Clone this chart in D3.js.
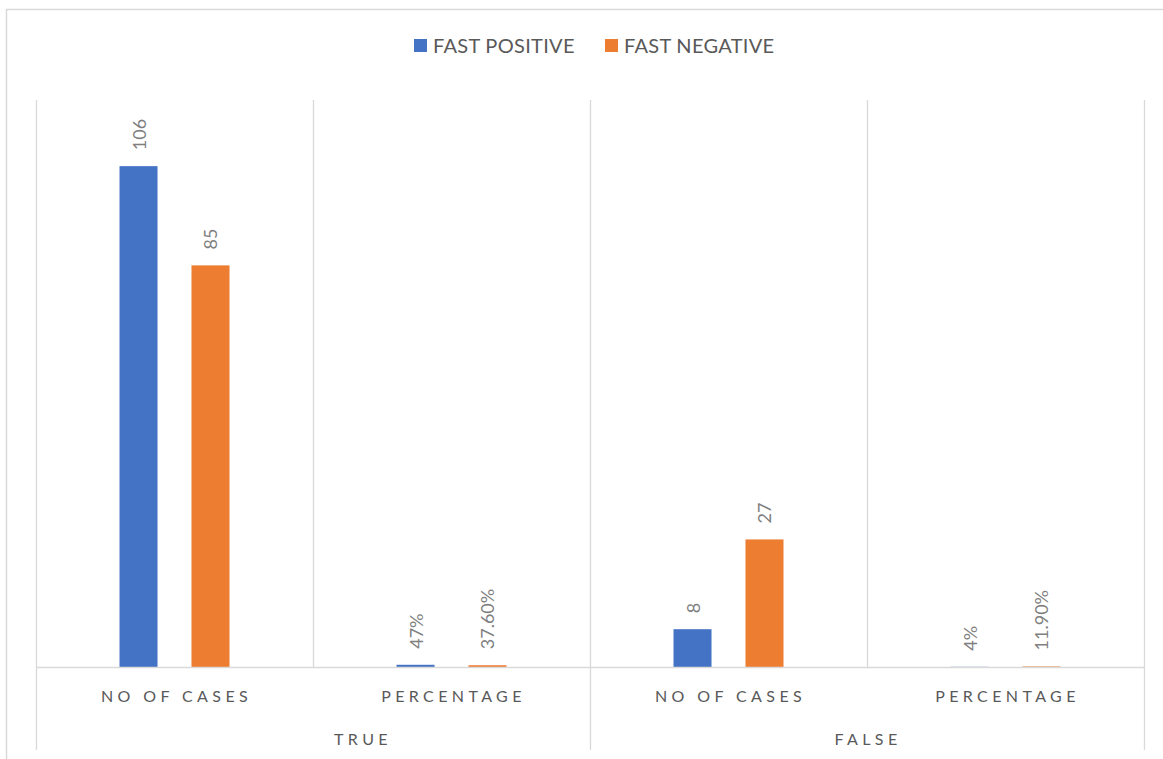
<!DOCTYPE html>
<html>
<head>
<meta charset="utf-8">
<script src="https://cdn.jsdelivr.net/npm/d3@7"></script>
<style>
  body { margin: 0; background: #fff; }
  text { font-family: Lato, "Open Sans", sans-serif; }
</style>
</head>
<body>
<svg id="chart" width="1163" height="759"></svg>
<script>
// data
var groups = ["TRUE", "FALSE"]
var categories = ["NO OF CASES", "PERCENTAGE"]
var seriesNames = ["FAST POSITIVE", "FAST NEGATIVE"]
var fastPositive = [106, 0.47, 8, 0.04]
var fastNegative = [85, 0.376, 27, 0.119]
var labelsPositive = ["106", "47%", "8", "4%"]
var labelsNegative = ["85", "37.60%", "27", "11.90%"]
var colors = ["#4472C4", "#ED7D31"]

function drawChart(){
  var svg = d3.select("#chart")
  var left = 36, right = 1144, plotTop = 100, base = 667

  // chart border (cut off on the right / bottom like the source)
  svg.append("rect").attr("x", 6.5).attr("y", 9.5).attr("width", 1300).attr("height", 900)
    .attr("fill", "#fff").attr("stroke", "#d9d9d9").attr("stroke-width", 1.5)

  // rows: one per (group, category)
  var rows = []
  groups.forEach(function(g){
    categories.forEach(function(c){ rows.push({group: g, cat: c, key: g + "|" + c}) })
  })
  rows.forEach(function(r, i){
    r.values = [fastPositive[i], fastNegative[i]]
    r.labels = [labelsPositive[i], labelsNegative[i]]
  })

  var x0 = d3.scaleBand().domain(rows.map(d => d.key)).range([left, right])
  var xg = d3.scaleBand().domain(groups).range([left, right])
  var x1 = d3.scaleBand().domain(seriesNames).range([0, x0.bandwidth()])
    .paddingInner(0.472).paddingOuter(1.16)
  var y = d3.scaleLinear().domain([0, 120]).range([base, plotTop])

  var grid = "#d9d9d9"

  // vertical category lines in plot area
  rows.forEach(function(r, i){
    svg.append("line").attr("x1", x0(r.key) + 0.5).attr("x2", x0(r.key) + 0.5)
      .attr("y1", plotTop).attr("y2", i % 2 == 0 ? 750 : base)
      .attr("stroke", grid).attr("stroke-width", 1.3)
  })
  svg.append("line").attr("x1", right + 0.5).attr("x2", right + 0.5)
    .attr("y1", plotTop).attr("y2", 750).attr("stroke", grid).attr("stroke-width", 1.3)

  // bars
  var g = svg.selectAll("g.row").data(rows).enter().append("g").attr("class", "row")
    .attr("transform", d => "translate(" + x0(d.key) + ",0)")

  g.selectAll("rect").data(d => d.values.map((v, i) => ({s: seriesNames[i], v: v, i: i})))
    .enter().append("rect")
    .attr("x", d => x1(d.s))
    .attr("width", x1.bandwidth())
    .attr("y", d => y(d.v))
    .attr("height", d => base - y(d.v))
    .attr("fill", d => colors[d.i])

  // baseline
  svg.append("line").attr("x1", left).attr("x2", right + 1)
    .attr("y1", base + 0.5).attr("y2", base + 0.5).attr("stroke", grid).attr("stroke-width", 1.3)

  // data labels (rotated)
  g.selectAll("text.lbl").data(d => d.values.map((v, i) => ({s: seriesNames[i], v: v, t: d.labels[i]})))
    .enter().append("text").attr("class", "lbl")
    .attr("transform", d => "translate(" + (x1(d.s) + x1.bandwidth() / 2) + "," + (y(d.v) - 16) + ") rotate(-90)")
    .attr("dominant-baseline", "central")
    .attr("text-anchor", "start")
    .style("font-size", "18px")
    .style("fill", "#7f7f7f")
    .text(d => d.t)

  // category labels
  svg.selectAll("text.cat").data(rows).enter().append("text").attr("class", "cat")
    .attr("x", d => x0(d.key) + x0.bandwidth() / 2 + 2)
    .attr("y", 702)
    .attr("text-anchor", "middle")
    .style("font-size", "16px")
    .style("letter-spacing", "4.4px")
    .style("fill", "#595959")
    .text(d => d.cat)

  // group labels
  svg.selectAll("text.grp").data(groups).enter().append("text").attr("class", "grp")
    .attr("x", (d, i) => xg(d) + xg.bandwidth() / 2 + (i == 0 ? 50 : 1))
    .attr("y", 745)
    .attr("text-anchor", "middle")
    .style("font-size", "16px")
    .style("letter-spacing", "4.4px")
    .style("fill", "#595959")
    .text(d => d)

  // legend
  var legend = svg.append("g").attr("transform", "translate(414,39)")
  var lx = [0, 191]
  seriesNames.forEach(function(s, i){
    legend.append("rect").attr("x", lx[i]).attr("y", 0).attr("width", 13).attr("height", 13).attr("fill", colors[i])
    legend.append("text").attr("x", lx[i] + 19).attr("y", 14)
      .style("font-size", "20px").style("letter-spacing", "0.3px")
      .style("fill", "#595959").text(s)
  })
}

drawChart()
</script>
</body>
</html>
